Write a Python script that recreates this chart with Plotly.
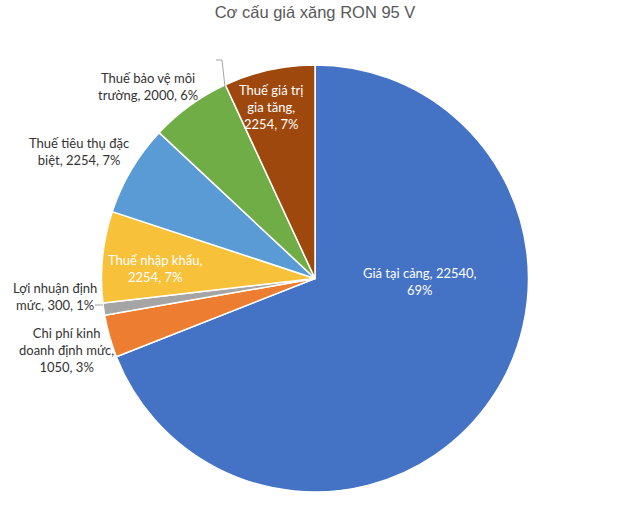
import plotly.graph_objects as go

labels = ["Giá tại cảng", "Chi phí kinh doanh định mức", "Lợi nhuận định mức",
          "Thuế nhập khẩu", "Thuế tiêu thụ đặc biệt", "Thuế bảo vệ môi trường",
          "Thuế giá trị gia tăng"]
values = [22540, 1050, 300, 2254, 2254, 2000, 2254]
colors = ["#4472C4", "#ED7D31", "#A5A5A5", "#F8C13A", "#5B9BD5", "#70AD47", "#9E480E"]
label_texts = ["Giá tại cảng, 22540,<br>69%", "Chi phí kinh<br>doanh định mức,<br>1050, 3%",
               "Lợi nhuận định<br>mức, 300, 1%", "Thuế nhập khẩu,<br>2254, 7%",
               "Thuế tiêu thụ đặc<br>biệt, 2254, 7%", "Thuế bảo vệ môi<br>trường, 2000, 6%",
               "Thuế giá trị<br>gia tăng,<br>2254, 7%"]
label_pos = [(420, 281), (66, 350), (55, 296), (155, 269), (79, 151), (148, 87), (271, 107)]
label_color = ["white", "#333333", "#333333", "white", "#333333", "#333333", "white"]

W, H = 630, 527
cx, cy, r = 315, 278.5, 213.5

fig = go.Figure(go.Pie(
    labels=labels, values=values, sort=False, direction="clockwise", rotation=0,
    marker=dict(colors=colors, line=dict(color="white", width=1.5)),
    textinfo="none", hoverinfo="label+value+percent", showlegend=False,
    domain=dict(x=[(cx - r) / W, (cx + r) / W], y=[(H - cy - r) / H, (H - cy + r) / H]),
))

for t, (x, y), c in zip(label_texts, label_pos, label_color):
    fig.add_annotation(x=x / W, y=1 - y / H, xref="paper", yref="paper", text=t,
                       showarrow=False, align="center", xanchor="center", yanchor="middle",
                       font=dict(family="Lato", size=13, color=c))

# leader lines
fig.add_shape(type="path", xref="paper", yref="paper",
              path=f"M {225/W} {1-87/H} L {222/W} {1-60/H} L {216/W} {1-60/H}",
              line=dict(color="#A6A6A6", width=1))
fig.add_shape(type="line", xref="paper", yref="paper",
              x0=95 / W, y0=1 - 305 / H, x1=103 / W, y1=1 - 305 / H,
              line=dict(color="#A6A6A6", width=1))

fig.update_layout(
    width=W, height=H, margin=dict(l=0, r=0, t=0, b=0),
    paper_bgcolor="white", plot_bgcolor="white",
    title=dict(text="Cơ cấu giá xăng RON 95 V", x=0.5, xanchor="center", y=1 - 12 / H,
               yanchor="middle", font=dict(family="Liberation Sans", size=16.5, color="#595959")),
)

fig.write_html("out.html")
